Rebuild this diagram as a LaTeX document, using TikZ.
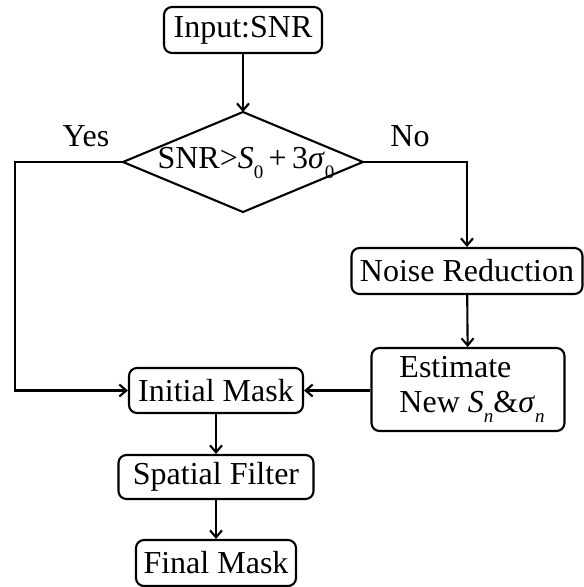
\documentclass[tikz,border=0pt]{standalone}
\usepackage{fontspec}
\setmainfont{Liberation Serif}
\usetikzlibrary{arrows.meta}
\newcommand{\mysub}[1]{\raisebox{-0.32em}{\fontsize{19}{19}\selectfont #1}}
\begin{document}
\begin{tikzpicture}[x=1pt,y=-1pt,
  every node/.style={font=\fontsize{32}{38}\selectfont},
  box/.style={draw,line width=2.1pt,rounded corners=8pt,inner sep=2pt},
  conn/.style={line width=2.1pt},
  arr/.style={conn,-{Straight Barb[length=7pt,width=12pt,line width=2.1pt]}}]
\useasboundingbox (0,0) rectangle (584,587);
\node[box,minimum width=158pt,minimum height=46pt] (inp) at (243,30) {Input:SNR};
\coordinate (dT) at (243,112);
\coordinate (dW) at (123,162);
\coordinate (dE) at (363,162);
\coordinate (dB) at (243,212);
\draw[conn,line join=miter] (dT) -- (dE) -- (dB) -- (dW) -- cycle;
\node (dtext) at (246,163) {SNR>\textit{S}\mysub{0}\,+\,3\textit{σ}\mysub{0}};
\node[box,minimum width=231pt,minimum height=46pt] (nr) at (467,271) {Noise Reduction};
\node[box,minimum width=193pt,minimum height=83pt,align=left] (est) at (468,389.5)
  {\hspace*{8pt}Estimate\\[-3pt]\hspace*{8pt}New \textit{S}\mysub{\textit{n}}\&\textit{σ}\mysub{\textit{n}}};
\node[box,minimum width=174pt,minimum height=45pt] (im) at (216,390.5) {Initial Mask};
\node[box,minimum width=195pt,minimum height=44pt] (sf) at (216,477) {Spatial Filter};
\node[box,minimum width=160pt,minimum height=46pt] (fm) at (216,563) {Final Mask};
\coordinate (yc) at (15,162);
\node (yes) at (86,136) {Yes};
\node (no) at (410,136) {No};
\draw[arr] (inp) -- (dT);
\draw[arr] (dW) -- (yc) |- (im.west);
\draw[arr] (dE) -| (nr.north);
\draw[arr] (nr) -- (est);
\draw[arr] (est.west |- im) -- (im.east);
\draw[arr] (im) -- (sf);
\draw[arr] (sf) -- (fm);
\end{tikzpicture}
\end{document}
